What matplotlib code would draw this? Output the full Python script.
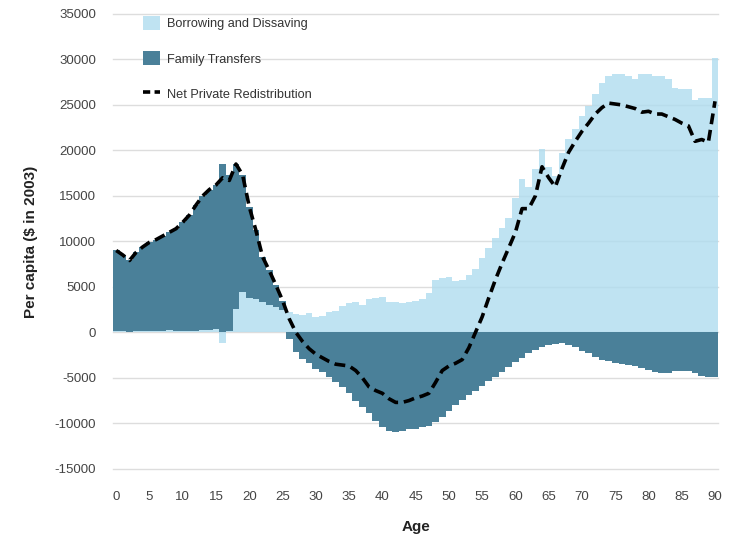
import matplotlib
matplotlib.use("Agg")
import matplotlib.pyplot as plt
import numpy as np

plt.rcParams['font.family'] = ['Liberation Sans', 'DejaVu Sans']
plt.rcParams['axes.unicode_minus'] = False

ages = np.arange(0, 91)

# Borrowing and Dissaving, per capita ($ in 2003), ages 0..90
borrowing = [
    150, 100, 50, 100, 100, 150, 200, 200, 250, 200,
    150, 100, 150, 250, 300, 350, -1200, 200, 2600, 4400,
    3800, 3700, 3300, 3000, 2800, 2500, 2200, 2000, 1900, 2100,
    1700, 1800, 2200, 2300, 2900, 3200, 3300, 3000, 3700, 3800,
    3900, 3300, 3300, 3200, 3300, 3500, 3700, 4300, 5700, 6000,
    6100, 5600, 5800, 6300, 7000, 8200, 9300, 10400, 11500, 12600,
    14800, 16900, 16000, 18000, 20200, 18200, 17200, 19700, 21300, 22400,
    23800, 24900, 26200, 27400, 28200, 28400, 28400, 28200, 27900, 28400,
    28400, 28200, 28200, 27900, 26900, 26800, 26800, 25500, 25800, 25800,
    30200,
]

# Family Transfers
transfers = [
    8850, 8400, 7850, 8700, 9300, 9750, 10000, 10400, 10750, 11200,
    11950, 12800, 13850, 14750, 15400, 15850, 18500, 17100, 15900, 12900,
    10000, 7500, 5000, 3800, 2400, 1000, -700, -2200, -2900, -3400,
    -4000, -4400, -4900, -5500, -6000, -6700, -7500, -8200, -8900, -9700,
    -10400, -10800, -11000, -10800, -10600, -10600, -10400, -10300, -9900, -9300,
    -8600, -8000, -7400, -6900, -6400, -5900, -5400, -4900, -4400, -3800,
    -3300, -2800, -2300, -1900, -1600, -1400, -1250, -1200, -1400, -1600,
    -2000, -2300, -2700, -3000, -3200, -3400, -3500, -3600, -3700, -3900,
    -4100, -4400, -4500, -4500, -4300, -4200, -4200, -4500, -4800, -4900,
    -4900,
]

# Net Private Redistribution
net = [
    9000, 8500, 7900, 8800, 9400, 9900, 10200, 10600, 11000, 11400,
    12100, 12900, 14000, 15000, 15700, 16200, 17000, 16700, 18500, 17300,
    13800, 11200, 8300, 6800, 5200, 3500, 1500, 0, -1000, -1800,
    -2400, -2800, -3200, -3500, -3600, -3700, -4200, -5000, -6000, -6400,
    -6700, -7300, -7700, -7700, -7500, -7200, -7000, -6700, -5500, -4200,
    -3700, -3400, -3000, -1700, 0, 1700, 3800, 5800, 7600, 9300,
    11000, 13600, 13600, 15000, 18200, 17000, 16000, 18000, 19800, 21000,
    22100, 23000, 24000, 24700, 25200, 25100, 25000, 24800, 24600, 24200,
    24300, 24000, 24000, 23700, 23400, 23000, 22700, 21000, 21200, 20900,
    25400,
]

yticks = list(range(-15000, 35001, 5000))
xticks = list(range(0, 91, 5))

light = '#afdcef'   # drawn at alpha 0.8 so the grid shows through faintly
dark = '#4a8099'

b = np.array(borrowing)
t = np.array(transfers)
# stack like a spreadsheet: same-sign values sit on top of each other
bottom = np.where(np.sign(t) == np.sign(b), b, 0)

fig = plt.figure(figsize=(7.33, 5.37), dpi=100)
ax = fig.add_axes([0.154, 0.127, 0.826, 0.847])

ax.grid(axis='y', color='#dddddd', linewidth=1, zorder=0)
ax.set_axisbelow(True)

h1 = ax.bar(ages, b, width=1.0, color=light, alpha=0.8, linewidth=0, zorder=1)
h2 = ax.bar(ages, t, width=1.0, bottom=bottom, color=dark, linewidth=0, zorder=2)
h3, = ax.plot(ages, net, color='black', linestyle=(0, (3, 1.6)), linewidth=2.6, zorder=3)

ax.set_xlim(-0.5, 90.5)
ax.set_ylim(-15000, 35000)
ax.set_yticks(yticks)
ax.set_xticks(xticks)
for gl in ax.get_ygridlines():
    gl.set_clip_on(False)
for s in ax.spines.values():
    s.set_visible(False)
ax.tick_params(axis='both', length=0, labelsize=9.5, labelcolor='#444444')
ax.tick_params(axis='x', pad=16)
ax.tick_params(axis='y', pad=12)

ax.set_xlabel('Age', fontsize=11, fontweight='bold', color='#222222', labelpad=12)
ax.set_ylabel('Per capita ($ in 2003)', fontsize=11, fontweight='bold', color='#222222', labelpad=12)

leg = ax.legend([h1, h2, h3], ['Borrowing and Dissaving', 'Family Transfers', 'Net Private Redistribution'],
                loc='upper left', bbox_to_anchor=(0.035, 1.015), frameon=False,
                fontsize=9.2, labelspacing=1.65, handlelength=1.3, handleheight=1.3,
                handletextpad=0.6, borderaxespad=0.3)
for txt in leg.get_texts():
    txt.set_color('#333333')
leg.get_lines()[0].set_linestyle((0, (2, 1.2)))

fig.savefig('out.png', dpi=100)
